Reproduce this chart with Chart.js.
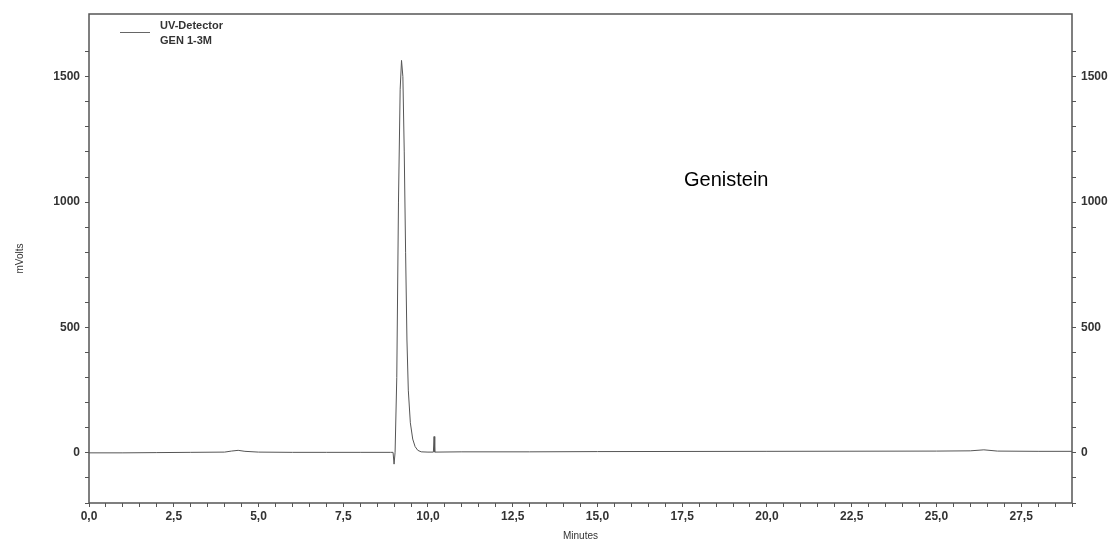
<!DOCTYPE html>
<html>
<head>
<meta charset="utf-8">
<script src="https://cdn.jsdelivr.net/npm/chart.js@4"></script>
<style>
  html, body { margin: 0; padding: 0; background: #fff; }
  #wrap { width: 1116px; height: 543px; }
</style>
</head>
<body>
<div id="wrap"><canvas id="myChart" width="1116" height="543"></canvas></div>
<script>
// retention time (min) and detector signal (mV)
const minutes = [0, 1, 2, 3, 4, 4.2, 4.4, 4.6, 5, 6, 7, 8, 8.9, 8.97, 9.0, 9.03, 9.08, 9.13, 9.18, 9.22, 9.26, 9.3, 9.34, 9.38, 9.42, 9.48, 9.55, 9.62, 9.7, 9.8, 10.0, 10.16, 10.18, 10.2, 11, 13, 15, 20, 25, 26, 26.4, 26.8, 28, 29];
const mvolts  = [0, 0, 1, 2, 3, 7, 10, 6, 3, 2, 2, 2, 2, 2, -45, 2, 300, 1000, 1450, 1565, 1500, 1200, 800, 450, 250, 120, 55, 25, 10, 4, 3, 3, 65, 3, 4, 4, 5, 6, 7, 8, 12, 7, 6, 6];

const xLabels = ['0,0', '2,5', '5,0', '7,5', '10,0', '12,5', '15,0', '17,5', '20,0', '22,5', '25,0', '27,5'];
const yLabels = ['0', '500', '1000', '1500'];

const seriesName = ['UV-Detector', 'GEN 1-3M'];
const peakName = 'Genistein';

const ink = '#333';
const tickFont = { family: 'Liberation Sans, Arial', size: 12, weight: 'bold' };

const points = minutes.map((m, i) => ({ x: m, y: mvolts[i] }));

const keepSteps = (step) => (scale) => {
  scale.ticks = scale.ticks.filter(t => Math.abs(t.value / step - Math.round(t.value / step)) < 1e-6);
};

const xLabel = (v) => {
  const k = Math.round(v / 2.5);
  return Math.abs(v - k * 2.5) < 1e-6 && xLabels[k] ? xLabels[k] : '';
};
const yLabel = (v) => {
  const s = String(Math.round(v));
  return yLabels.includes(s) ? s : '';
};

const extras = {
  id: 'extras',
  afterDraw(chart) {
    const { ctx, chartArea: a } = chart;
    ctx.save();
    ctx.strokeStyle = '#555';
    ctx.lineWidth = 1.5;
    ctx.strokeRect(a.left, a.top, a.right - a.left, a.bottom - a.top);

    // legend
    ctx.strokeStyle = '#666';
    ctx.lineWidth = 1;
    ctx.beginPath();
    ctx.moveTo(120, 32.5);
    ctx.lineTo(150, 32.5);
    ctx.stroke();
    ctx.fillStyle = ink;
    ctx.font = 'bold 11px "Liberation Sans", Arial';
    ctx.textBaseline = 'middle';
    ctx.fillText(seriesName[0], 160, 26);
    ctx.fillText(seriesName[1], 160, 41);

    // peak annotation
    ctx.fillStyle = '#000';
    ctx.font = '20px "Liberation Sans", Arial';
    ctx.textBaseline = 'alphabetic';
    ctx.fillText(peakName, 684, 186);
    ctx.restore();
  }
};

const data = {
  datasets: [{
    label: seriesName.join(' '),
    data: points,
    borderColor: '#555',
    borderWidth: 1,
    pointRadius: 0,
    tension: 0,
    yAxisID: 'y'
  }]
};

const config = {
  type: 'line',
  data: data,
  plugins: [extras],
  options: {
    responsive: false,
    animation: false,
    layout: { padding: { top: 14, left: 0, right: 0, bottom: 0 } },
    plugins: { legend: { display: false }, tooltip: { enabled: false } },
    scales: {
      x: {
        type: 'linear',
        min: 0,
        max: 29,
        afterBuildTicks: keepSteps(0.5),
        afterFit: (s) => { s.height = 40; },
        ticks: { stepSize: 0.5, autoSkip: false, maxRotation: 0, color: ink, font: tickFont, padding: 2, callback: xLabel },
        grid: { drawOnChartArea: false, drawTicks: true, tickLength: 4, color: '#555' },
        border: { display: false },
        title: { display: true, text: 'Minutes', color: ink, font: { family: 'Liberation Sans, Arial', size: 10 }, padding: { top: 0, bottom: 1 } }
      },
      y: {
        position: 'left',
        min: -200,
        max: 1750,
        afterBuildTicks: keepSteps(100),
        afterFit: (s) => { s.width = 89; },
        ticks: { stepSize: 100, autoSkip: false, color: ink, font: tickFont, padding: 5, callback: yLabel },
        grid: { drawOnChartArea: false, drawTicks: true, tickLength: 4, color: '#555' },
        border: { display: false },
        title: { display: true, text: 'mVolts', color: ink, font: { family: 'Liberation Sans, Arial', size: 10 }, padding: { top: 14, bottom: 0 } }
      },
      y2: {
        position: 'right',
        min: -200,
        max: 1750,
        afterBuildTicks: keepSteps(100),
        afterFit: (s) => { s.width = 44; },
        ticks: { stepSize: 100, autoSkip: false, color: ink, font: tickFont, padding: 5, callback: yLabel },
        grid: { drawOnChartArea: false, drawTicks: true, tickLength: 4, color: '#555' },
        border: { display: false }
      }
    }
  }
};

new Chart(document.getElementById('myChart'), config);
</script>
</body>
</html>
